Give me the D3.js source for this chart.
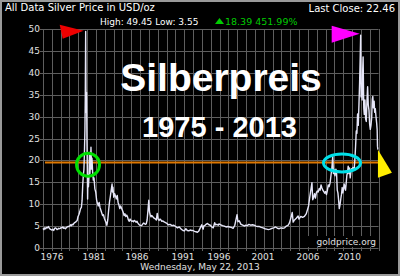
<!DOCTYPE html>
<html>
<head>
<meta charset="utf-8">
<script src="https://cdn.jsdelivr.net/npm/d3@7"></script>
<style>
  html, body { margin: 0; padding: 0; background: #000; }
  svg { display: block; }
  text { font-family: "DejaVu Sans", Verdana, sans-serif; }
</style>
</head>
<body>
<svg id="chart" width="400" height="276"></svg>
<script>
// silver price, USD/oz
const years = [
  1975.00, 1975.10, 1975.20, 1975.30, 1975.40, 1975.50, 1975.60, 1975.70, 1975.80, 1975.90,
  1976.00, 1976.10, 1976.20, 1976.30, 1976.40, 1976.50, 1976.60, 1976.70, 1976.80, 1976.90,
  1977.00, 1977.10, 1977.20, 1977.30, 1977.40, 1977.50, 1977.60, 1977.70, 1977.80, 1977.90,
  1978.00, 1978.10, 1978.20, 1978.30, 1978.40, 1978.50, 1978.60, 1978.70, 1978.80, 1978.90,
  1979.00, 1979.10, 1979.20, 1979.30, 1979.40, 1979.50, 1979.58, 1979.66, 1979.74, 1979.80,
  1979.86, 1979.92, 1979.96, 1980.01, 1980.04, 1980.08, 1980.12, 1980.16, 1980.20, 1980.24,
  1980.28, 1980.34, 1980.40, 1980.46, 1980.52, 1980.58, 1980.64, 1980.70, 1980.76, 1980.84,
  1980.92, 1981.00, 1981.10, 1981.20, 1981.30, 1981.40, 1981.50, 1981.60, 1981.70, 1981.80,
  1981.90, 1982.00, 1982.10, 1982.20, 1982.30, 1982.40, 1982.50, 1982.60, 1982.70, 1982.80,
  1982.90, 1983.00, 1983.10, 1983.15, 1983.20, 1983.30, 1983.40, 1983.50, 1983.60, 1983.70,
  1983.80, 1983.90, 1984.00, 1984.10, 1984.20, 1984.30, 1984.40, 1984.50, 1984.60, 1984.70,
  1984.80, 1984.90, 1985.00, 1985.10, 1985.20, 1985.30, 1985.40, 1985.50, 1985.60, 1985.70,
  1985.80, 1985.90, 1986.00, 1986.10, 1986.20, 1986.30, 1986.40, 1986.50, 1986.60, 1986.70,
  1986.80, 1986.90, 1987.00, 1987.10, 1987.20, 1987.28, 1987.36, 1987.44, 1987.52, 1987.60,
  1987.70, 1987.80, 1987.90, 1988.00, 1988.10, 1988.20, 1988.30, 1988.40, 1988.50, 1988.60,
  1988.70, 1988.80, 1988.90, 1989.00, 1989.20, 1989.40, 1989.60, 1989.80, 1990.00, 1990.20,
  1990.40, 1990.60, 1990.80, 1991.00, 1991.20, 1991.40, 1991.60, 1991.80, 1992.00, 1992.20,
  1992.40, 1992.60, 1992.80, 1993.00, 1993.20, 1993.40, 1993.60, 1993.70, 1993.80, 1993.90,
  1994.00, 1994.20, 1994.40, 1994.60, 1994.80, 1995.00, 1995.20, 1995.40, 1995.50, 1995.70,
  1995.90, 1996.00, 1996.20, 1996.40, 1996.60, 1996.80, 1997.00, 1997.20, 1997.40, 1997.60,
  1997.80, 1997.90, 1998.05, 1998.15, 1998.30, 1998.50, 1998.70, 1998.90, 1999.00, 1999.20,
  1999.40, 1999.60, 1999.80, 2000.00, 2000.20, 2000.40, 2000.60, 2000.80, 2001.00, 2001.20,
  2001.40, 2001.60, 2001.80, 2002.00, 2002.20, 2002.40, 2002.60, 2002.80, 2003.00, 2003.20,
  2003.40, 2003.60, 2003.80, 2003.95, 2004.10, 2004.25, 2004.35, 2004.50, 2004.70, 2004.90,
  2005.00, 2005.20, 2005.40, 2005.60, 2005.80, 2005.95, 2006.05, 2006.15, 2006.25, 2006.35,
  2006.42, 2006.50, 2006.58, 2006.66, 2006.74, 2006.82, 2006.90, 2007.00, 2007.08, 2007.16,
  2007.24, 2007.32, 2007.40, 2007.48, 2007.56, 2007.64, 2007.72, 2007.80, 2007.88, 2007.96,
  2008.04, 2008.12, 2008.20, 2008.26, 2008.32, 2008.40, 2008.48, 2008.54, 2008.60, 2008.66,
  2008.72, 2008.78, 2008.84, 2008.90, 2008.96, 2009.04, 2009.12, 2009.20, 2009.28, 2009.36,
  2009.44, 2009.52, 2009.60, 2009.68, 2009.76, 2009.84, 2009.92, 2010.00, 2010.08, 2010.16,
  2010.24, 2010.32, 2010.40, 2010.48, 2010.56, 2010.64, 2010.72, 2010.80, 2010.88, 2010.96,
  2011.04, 2011.12, 2011.20, 2011.28, 2011.33, 2011.38, 2011.44, 2011.50, 2011.56, 2011.62,
  2011.70, 2011.76, 2011.84, 2011.92, 2012.00, 2012.08, 2012.16, 2012.24, 2012.32, 2012.40,
  2012.48, 2012.56, 2012.64, 2012.72, 2012.78, 2012.86, 2012.94, 2013.00, 2013.08, 2013.16,
  2013.24, 2013.30, 2013.34, 2013.39
];
const prices = [
  4.5, 4.2, 4.6, 4.4, 4.7, 4.6, 4.9, 4.5, 4.3, 4.2,
  4.1, 4.3, 4.0, 4.4, 4.6, 4.5, 4.2, 4.3, 4.5, 4.4,
  4.5, 4.7, 4.6, 4.8, 4.5, 4.6, 4.4, 4.6, 4.8, 4.9,
  4.9, 5.0, 5.3, 5.1, 5.4, 5.3, 5.6, 5.8, 5.9, 6.1,
  6.3, 7.2, 7.6, 8.2, 9.0, 9.3, 10.8, 14.5, 16.8, 17.9,
  21.5, 27.0, 34.0, 49.45, 36.5, 31.0, 35.5, 25.0, 19.0, 11.2,
  16.8, 14.0, 16.2, 21.8, 17.0, 19.5, 23.0, 18.0, 20.5, 17.2,
  15.5, 16.0, 13.5, 12.8, 11.0, 10.2, 9.6, 10.4, 9.2, 8.6,
  8.0, 7.4, 7.6, 6.8, 6.3, 5.8, 5.2, 6.4, 8.6, 10.5,
  11.8, 13.2, 14.6, 12.8, 13.9, 11.6, 12.4, 11.8, 11.2, 12.0,
  10.4, 9.8, 9.0, 9.6, 9.1, 8.6, 8.1, 7.4, 7.8, 7.2,
  7.5, 7.1, 6.4, 6.1, 6.6, 6.3, 6.1, 6.2, 6.0, 6.3,
  6.1, 5.9, 6.1, 5.7, 5.4, 5.2, 5.1, 5.1, 5.4, 5.7,
  5.6, 5.4, 5.5, 6.4, 8.8, 10.9, 8.2, 7.6, 7.1, 7.4,
  7.2, 6.9, 6.8, 6.6, 6.4, 7.9, 6.6, 6.3, 6.6, 6.4,
  6.1, 6.2, 6.0, 5.9, 5.7, 5.3, 5.4, 5.1, 5.2, 4.9,
  4.6, 4.8, 4.3, 4.0, 3.9, 4.4, 4.0, 3.9, 4.1, 4.0,
  4.0, 3.8, 3.7, 3.6, 3.9, 4.6, 5.3, 4.7, 4.3, 5.1,
  5.1, 5.4, 5.6, 5.3, 5.2, 4.8, 4.6, 5.8, 5.3, 5.4,
  5.2, 5.5, 5.3, 5.1, 5.0, 4.8, 4.9, 4.8, 4.7, 4.5,
  5.2, 6.2, 7.6, 6.0, 6.2, 5.4, 5.2, 5.0, 5.2, 5.1,
  5.4, 5.2, 5.3, 5.2, 5.0, 4.9, 4.9, 4.7, 4.6, 4.4,
  4.3, 4.2, 4.3, 4.5, 4.6, 4.8, 4.5, 4.4, 4.6, 4.5,
  4.6, 5.0, 5.2, 5.8, 6.9, 8.1, 5.9, 6.4, 6.8, 7.3,
  6.6, 7.2, 7.0, 7.2, 7.8, 8.8, 9.6, 11.5, 13.2, 14.9,
  11.0, 11.6, 12.4, 11.4, 12.6, 13.0, 12.8, 13.6, 13.2, 14.4,
  13.7, 13.2, 12.9, 12.5, 12.9, 12.2, 13.1, 14.4, 14.0, 14.8,
  16.5, 18.2, 20.9, 17.0, 17.9, 16.5, 18.0, 17.2, 13.2, 12.6,
  11.0, 9.0, 9.6, 10.4, 11.3, 12.3, 13.8, 12.6, 13.4, 14.6,
  13.9, 13.2, 14.8, 16.6, 17.2, 18.7, 17.0, 18.3, 16.0, 17.5,
  18.1, 17.8, 18.4, 18.0, 18.2, 20.4, 23.1, 26.7, 26.2, 30.6,
  28.0, 32.5, 37.6, 44.0, 48.6, 34.5, 37.5, 33.8, 39.8, 43.6,
  32.0, 30.5, 33.8, 29.5, 28.9, 33.5, 36.8, 32.6, 31.5, 28.3,
  27.1, 28.0, 29.7, 34.0, 34.6, 32.0, 33.5, 31.0, 31.8, 30.0,
  28.5, 27.0, 23.2, 22.46
];
const yTicks = [0, 5, 10, 15, 20, 25, 30, 35, 40, 45, 50];
const xTickYears = [1976, 1981, 1986, 1991, 1996, 2001, 2006, 2010];
const refLevel = 19.5;          // orange line
const lastClose = 22.46;

const svg = d3.select("#chart");
const W = 400, H = 276;
const m = {left: 43, right: 378.5, top: 29, bottom: 248};

svg.append("rect").attr("width", W).attr("height", H).attr("fill", "#000");

// the axis is not even in time, so use a polylinear scale
const x = d3.scaleLinear()
    .domain([1975, 1976, 1981, 1986, 1991, 1996, 2001, 2006, 2008.8, 2013.4])
    .range([m.left, 52, 94, 137, 183, 219, 263, 308, 339.5, 378]);
const y = d3.scaleLinear().domain([0, 50]).range([m.bottom, m.top]);
const gridX = d3.scaleLinear().domain([0, 38]).range([m.left, m.right]);

// grid
const grid = svg.append("g").attr("stroke", "#5e5e5e").attr("stroke-width", 1);
grid.selectAll("line.v")
    .data(d3.range(39))
    .enter()
    .append("line")
    .attr("x1", (d) => Math.round(gridX(d)) + 0.5)
    .attr("x2", (d) => Math.round(gridX(d)) + 0.5)
    .attr("y1", m.top)
    .attr("y2", m.bottom + 3);
grid.selectAll("line.h")
    .data(yTicks)
    .enter()
    .append("line")
    .attr("x1", m.left - 3)
    .attr("x2", m.right)
    .attr("y1", (d) => Math.round(y(d)) + 0.5)
    .attr("y2", (d) => Math.round(y(d)) + 0.5);

// y labels
svg.append("g")
    .selectAll("text")
    .data(yTicks)
    .enter()
    .append("text")
    .attr("x", m.left - 3)
    .attr("y", (d) => y(d) + 3)
    .attr("text-anchor", "end")
    .style("font-size", "9px")
    .style("fill", "#e0e0e0")
    .text((d) => d);

// x labels
svg.append("g")
    .selectAll("text")
    .data(xTickYears)
    .enter()
    .append("text")
    .attr("x", (d) => x(d))
    .attr("y", 260)
    .attr("text-anchor", "middle")
    .style("font-size", "9px")
    .style("fill", "#e0e0e0")
    .text((d) => d);

// big overlay text
svg.append("text")
    .attr("x", 221)
    .attr("y", 91)
    .attr("text-anchor", "middle")
    .style("font-family", "'Liberation Sans', Arial, sans-serif")
    .style("font-weight", "bold")
    .style("font-size", "39px")
    .style("fill", "#fff")
    .text("Silberpreis");
svg.append("text")
    .attr("x", 219.5)
    .attr("y", 137)
    .attr("text-anchor", "middle")
    .style("font-family", "'Liberation Sans', Arial, sans-serif")
    .style("font-weight", "bold")
    .style("font-size", "29px")
    .style("fill", "#fff")
    .text("1975 - 2013");

// orange reference line
svg.append("line")
    .attr("x1", m.left + 2)
    .attr("x2", m.right + 1)
    .attr("y1", y(refLevel))
    .attr("y2", y(refLevel))
    .attr("stroke", "#e07800")
    .attr("stroke-width", 2);

// price line
const line = d3.line()
    .x((d) => x(d[0]))
    .y((d) => y(d[1]));
svg.append("path")
    .datum(d3.zip(years, prices))
    .attr("d", line)
    .attr("fill", "none")
    .attr("stroke", "#e6e6f8")
    .attr("stroke-width", 1.4)
    .attr("stroke-linejoin", "round");

// circles
svg.append("circle")
    .attr("cx", x(1980.29))
    .attr("cy", y(19))
    .attr("r", 11.5)
    .attr("fill", "none")
    .attr("stroke", "#00e000")
    .attr("stroke-width", 3);
svg.append("ellipse")
    .attr("cx", x(2009.1))
    .attr("cy", y(19.4))
    .attr("rx", 18.5)
    .attr("ry", 9)
    .attr("fill", "none")
    .attr("stroke", "#00e0e8")
    .attr("stroke-width", 3);

// flags
const redTip = [x(1980.01) - 2, y(49.6)];
svg.append("path")
    .attr("d", `M${redTip[0] - 24},${redTip[1] - 6}L${redTip[0]},${redTip[1]}L${redTip[0] - 21},${redTip[1] + 8}Z`)
    .attr("fill", "#ee0000");
const magTip = [x(2011.33) - 1, y(48.9)];
svg.append("path")
    .attr("d", `M${magTip[0] - 28},${magTip[1] - 8}L${magTip[0]},${magTip[1]}L${magTip[0] - 28},${magTip[1] + 9}Z`)
    .attr("fill", "#ff00ff");
const yelTop = [x(2013.39), y(lastClose)];
svg.append("path")
    .attr("d", `M${yelTop[0]},${yelTop[1]}L${yelTop[0] + 14},${yelTop[1] + 23}L${yelTop[0]},${yelTop[1] + 28}Z`)
    .attr("fill", "#ffee00");

// watermark
svg.append("rect")
    .attr("x", 308).attr("y", 236).attr("width", 70).attr("height", 11)
    .attr("fill", "#000");
svg.append("text")
    .attr("x", 376)
    .attr("y", 245)
    .attr("text-anchor", "end")
    .style("font-size", "9px")
    .style("fill", "#e0e0e0")
    .text("goldprice.org");

// header
svg.append("text")
    .attr("x", 5).attr("y", 11)
    .style("font-size", "10px").style("fill", "#fff")
    .text("All Data Silver Price in USD/oz");
svg.append("text")
    .attr("x", 395).attr("y", 11.5)
    .attr("text-anchor", "end")
    .style("font-size", "10px").style("fill", "#fff")
    .text("Last Close: 22.46");
svg.append("text")
    .attr("x", 100).attr("y", 25)
    .style("font-size", "9px").style("fill", "#fff")
    .text("High: 49.45 Low: 3.55");
svg.append("path")
    .attr("d", "M215,24L224,24L219.5,18Z")
    .attr("fill", "#00cc00");
svg.append("text")
    .attr("x", 225).attr("y", 25)
    .style("font-size", "9.5px").style("fill", "#00cc00")
    .text("18.39 451.99%");

// footer date
svg.append("text")
    .attr("x", 200).attr("y", 270)
    .attr("text-anchor", "middle")
    .style("font-size", "9px").style("fill", "#e0e0e0")
    .text("Wednesday, May 22, 2013");

// outer frame
svg.append("rect")
    .attr("x", 1).attr("y", 1).attr("width", W - 2).attr("height", H - 2)
    .attr("fill", "none")
    .attr("stroke", "#9a9a9a")
    .attr("stroke-width", 2);
</script>
</body>
</html>
